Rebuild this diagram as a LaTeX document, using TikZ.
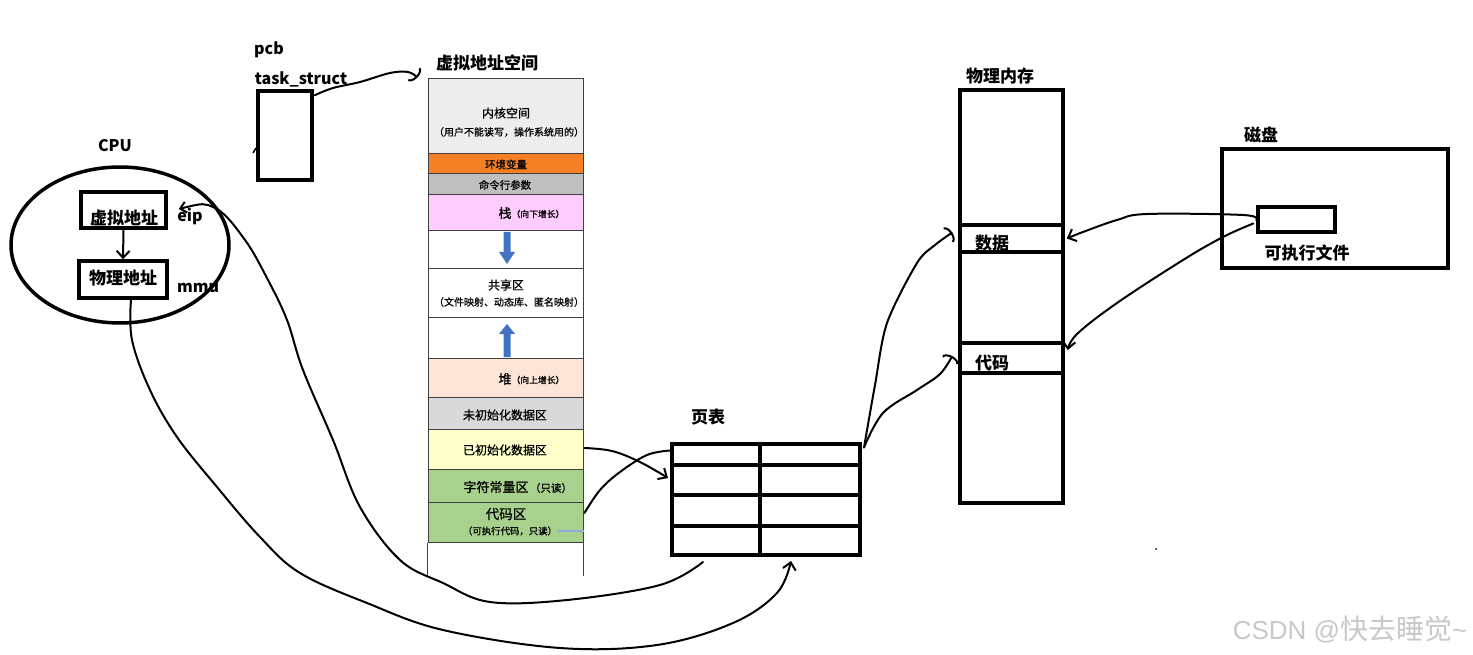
\documentclass[tikz,border=0pt]{standalone}
\usepackage{fontspec}
\setmainfont{Noto Sans CJK SC}
\newfontfamily\cjk{Noto Sans CJK SC}
\newfontfamily\cjkm{Noto Sans CJK SC}[FakeBold=0.8]
\newfontfamily\wmfont{Liberation Sans}
\usetikzlibrary{arrows.meta,calc,shapes.geometric}
\definecolor{kernfill}{HTML}{EDEDED}
\definecolor{envfill}{HTML}{F58025}
\definecolor{argfill}{HTML}{BFBFBF}
\definecolor{stackfill}{HTML}{FFCCFF}
\definecolor{heapfill}{HTML}{FCE4D6}
\definecolor{bssfill}{HTML}{D9D9D9}
\definecolor{datafill}{HTML}{FFFFCC}
\definecolor{greenfill}{HTML}{A9D18E}
\definecolor{arrowblue}{HTML}{4472C4}
\definecolor{thinblue}{HTML}{8FAADC}
\definecolor{segline}{HTML}{404040}
\definecolor{wmgray}{HTML}{C8C8C8}
\begin{document}
\begin{tikzpicture}[x=1pt,y=-1pt,
  box/.style={draw=black, line width=3.5pt, inner sep=0pt},
  tbl/.style={draw=black, line width=4pt, inner sep=0pt},
  seg/.style={draw=segline, line width=1pt, inner sep=0pt, minimum width=155pt},
  lbl/.style={inner sep=0pt, font=\cjk\bfseries\fontsize{16}{18}\selectfont},
  big/.style={inner sep=0pt, font=\cjk\bfseries\fontsize{17}{19}\selectfont},
  ctext/.style={inner sep=0pt, font=\cjkm\fontsize{12}{14}\selectfont},
  stext/.style={inner sep=0pt, font=\cjkm\fontsize{10}{12}\selectfont},
  curve/.style={draw=black, line width=2pt, line cap=round, line join=round},
  barb/.style={-{Straight Barb[length=7pt,width=13pt,line width=2pt]}},
  arcbarb/.style={-{Arc Barb[length=5pt,width=18pt,line width=2pt]}}
]
\useasboundingbox (0,0) rectangle (1473,655);
\fill[white] (0,0) rectangle (1473,655);

% ---------- PCB ----------
\node[lbl] (pcbT) at (269,50) {pcb};
\node[lbl] (taskT) at (301,79) {task\_struct};
\node[box, minimum width=54pt, minimum height=89pt] (pcb) at (285,135.5) {};
\draw[line width=1.5pt] (253,153) -- (256,148);

% ---------- CPU ----------
\node[lbl] (cpuT) at (115,146) {CPU};
\node[ellipse, draw=black, line width=3.5pt, minimum width=218pt, minimum height=156pt, inner sep=0pt] (cpu) at (120,245) {};
\node[box, minimum width=85pt, minimum height=36pt] (virt) at (123.5,210) {};
\node[box, minimum width=88pt, minimum height=37pt] (phys) at (123,279.5) {};
\node[big] (virtT) at (124,218) {虚拟地址};
\node[big] (physT) at (123,278) {物理地址};
\node[lbl] (eipT) at (190,217) {eip};
\node[lbl] (mmuT) at (198,288) {mmu};
\draw[curve, barb] (virt.south) -- (phys.north);

% ---------- virtual address space ----------
\node[big] (vasT) at (487,63) {虚拟地址空间};
\node[seg, fill=kernfill, minimum height=75pt] (kern) at (505.5,116.5) {};
\node[seg, fill=envfill, minimum height=20pt] (env) at (505.5,164) {};
\node[seg, fill=argfill, minimum height=21pt] (arg) at (505.5,184.5) {};
\node[seg, fill=stackfill, minimum height=36pt] (stack) at (505.5,213) {};
\node[seg, fill=white, minimum height=38pt] (gapA) at (505.5,250) {};
\node[seg, fill=white, minimum height=48pt] (share) at (505.5,293) {};
\node[seg, fill=white, minimum height=41pt] (gapB) at (505.5,337.5) {};
\node[seg, fill=heapfill, minimum height=39pt] (heap) at (505.5,377.5) {};
\node[seg, fill=bssfill, minimum height=32pt] (bss) at (505.5,413) {};
\node[seg, fill=datafill, minimum height=40pt] (data) at (505.5,449) {};
\node[seg, fill=greenfill, minimum height=33pt] (rodata) at (505.5,485.5) {};
\node[seg, fill=greenfill, minimum height=40pt] (code) at (505.5,522) {};
\draw[segline, line width=1pt] (code.south west) -- ++(0,33);
\draw[segline, line width=1pt] (code.south east) -- ++(0,33);

\node[ctext] (kernT) at (506,113) {内核空间};
\node[stext] (kernS) at (509,132) {（用户不能读写，操作系统用的）};
\node[ctext, font=\cjkm\fontsize{10.5}{12}\selectfont] (envT) at (506,164.5) {环境变量};
\node[ctext, font=\cjkm\fontsize{10.5}{12}\selectfont] (argT) at (505,185) {命令行参数};
\node[ctext, font=\cjkm\fontsize{13}{15}\selectfont] (stackT) at (505,213) {栈};
\node[stext, font=\cjkm\fontsize{8.8}{10}\selectfont] (stackS) at (538,214) {（向下增长）};
\fill[arrowblue] (503.5,232) -- (510.5,232) -- (510.5,252) -- (515,252) -- (507,264) -- (499,252) -- (503.5,252) -- cycle;
\node[ctext] (shareT) at (506,285) {共享区};
\node[stext] (shareS) at (509,302) {（文件映射、动态库、匿名映射）};
\fill[arrowblue] (503.5,357) -- (510.5,357) -- (510.5,334) -- (515,334) -- (507,324) -- (499,334) -- (503.5,334) -- cycle;
\node[ctext, font=\cjkm\fontsize{13}{15}\selectfont] (heapT) at (505,379) {堆};
\node[stext, font=\cjkm\fontsize{8.8}{10}\selectfont] (heapS) at (538,380) {（向上增长）};
\node[ctext] (bssT) at (505,415) {未初始化数据区};
\node[ctext] (dataT) at (505,450) {已初始化数据区};
\node[ctext, font=\cjkm\fontsize{13}{15}\selectfont] (rodataT) at (496,487) {字符常量区};
\node[stext, font=\cjkm\fontsize{10.5}{12}\selectfont] (rodataS) at (551,488) {（只读）};
\node[ctext, font=\cjkm\fontsize{13.5}{15}\selectfont] (codeT) at (506,514) {代码区};
\node[stext, font=\cjkm\fontsize{9.4}{11}\selectfont] (codeS) at (510,531) {（可执行代码，只读）};
\draw[thinblue, line width=1.2pt] (557,531) -- (code.east |- 0,531);

% ---------- page table ----------
\node[big] (ptT) at (708,417) {页表};
\node[tbl, minimum width=88pt, minimum height=21pt] (p11) at (716,454.5) {};
\node[tbl, minimum width=100pt, minimum height=21pt] (p12) at (810,454.5) {};
\node[tbl, minimum width=88pt, minimum height=30pt] (p21) at (716,480) {};
\node[tbl, minimum width=100pt, minimum height=30pt] (p22) at (810,480) {};
\node[tbl, minimum width=88pt, minimum height=31pt] (p31) at (716,510.5) {};
\node[tbl, minimum width=100pt, minimum height=31pt] (p32) at (810,510.5) {};
\node[tbl, minimum width=88pt, minimum height=29pt] (p41) at (716,540.5) {};
\node[tbl, minimum width=100pt, minimum height=29pt] (p42) at (810,540.5) {};

% ---------- physical memory ----------
\node[big] (memT) at (1000,76) {物理内存};
\node[box, minimum width=103pt, minimum height=413pt] (mem) at (1011.5,296.5) {};
\node[box, minimum width=103pt, minimum height=27pt] (memdata) at (1011.5,238.5) {};
\node[box, minimum width=103pt, minimum height=30pt] (memcode) at (1011.5,358) {};
\node[big] (memdataT) at (992,243) {数据};
\node[big] (memcodeT) at (992,363) {代码};

% ---------- disk ----------
\node[big] (diskT) at (1261,135) {磁盘};
\node[box, minimum width=226pt, minimum height=119pt] (disk) at (1335,208.5) {};
\node[box, minimum width=77pt, minimum height=25pt] (exe) at (1296.5,219.5) {};
\node[big] (exeT) at (1307,253) {可执行文件};

% ---------- connector end points ----------
\coordinate (pcbA) at ($(pcb.north east)+(1,6)$);
\coordinate (kernA) at ($(kern.north west)+(-10,-1)$);
\coordinate (eipA) at ($(virt.east)+(11,-1)$);
\coordinate (ptA) at ($(p41.south)+(-13,5)$);
\coordinate (physA) at ($(phys.south)+(8,0)$);
\coordinate (ptB) at ($(p42.south west)+(33,4)$);
\coordinate (dataA) at ($(data.east)+(1,-1)$);
\coordinate (ptC) at ($(p21.west)+(-2,-2)$);
\coordinate (codeA) at ($(code.east)+(1,-9)$);
\coordinate (ptD) at ($(p11.west)+(0,-4)$);
\coordinate (ptE) at ($(p12.east)+(2,-7)$);
\coordinate (memA) at ($(memdata.west)+(-6,-6)$);
\coordinate (memB) at ($(memcode.west)+(-6,-2)$);
\coordinate (exeA) at ($(exe.west)+(0,0.5)$);
\coordinate (exeB) at ($(exe.west)+(-3,4)$);
\coordinate (memC) at ($(memdata.east)+(2,0)$);
\coordinate (memD) at ($(memcode.east)+(3,-8)$);

% ---------- connectors ----------
\draw[curve, arcbarb] plot[smooth, tension=0.6] coordinates {(pcbA) (333,88) (360,82) (390,73) (408,72) (kernA)};
\draw[curve, {Straight Barb[length=6pt,width=11pt,line width=2pt]}-] plot[smooth, tension=0.6] coordinates {(eipA) (215,208) (245,240) (268,280) (287,320) (303,370) (333,440) (360,507) (400,560) (443,583) (490,602) (567,600) (660,585) (ptA)};
\draw[curve, barb] plot[smooth, tension=0.6] coordinates {(physA) (132,340) (150,390) (177,437) (217,487) (260,537) (300,573) (367,603) (443,630) (560,648) (657,645) (733,623) (777,593) (ptB)};
\draw[curve, barb] plot[smooth, tension=0.6] coordinates {(dataA) (612,451) (640,462) (ptC)};
\draw[curve] plot[smooth, tension=0.6] coordinates {(codeA) (600,490) (620,472) (647,455) (ptD)};
\draw[curve, arcbarb] plot[smooth, tension=0.5] coordinates {(ptE) (875,385) (887,323) (917,263) (935,245) (memA)};
\draw[curve, arcbarb] plot[smooth, tension=0.6] coordinates {(ptE) (883,413) (917,390) (940,374) (memB)};
\draw[curve, barb] plot[smooth, tension=0.6] coordinates {(exeA) (1243,215) (1147,214) (1117,220) (1083,232) (memC)};
\draw[curve, barb] plot[smooth, tension=0.6] coordinates {(exeB) (1223,237) (1183,260) (1117,303) (1077,334) (memD)};

\fill (1156,549) circle (1pt);
\node[inner sep=0pt, text=wmgray, font=\wmfont\fontsize{26}{28}\selectfont] (wm) at (1350,630) {CSDN @{\cjk\fontsize{28}{30}\selectfont 快去睡觉}\textasciitilde};
\end{tikzpicture}
\end{document}
